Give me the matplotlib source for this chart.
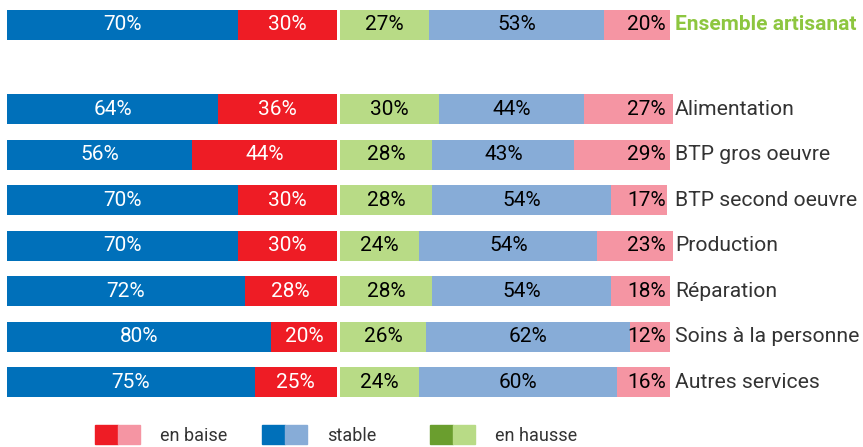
import numpy as np
import matplotlib.pyplot as plt
from matplotlib.patches import Patch
from matplotlib.legend_handler import HandlerTuple

categories = ["Ensemble artisanat", "Alimentation", "BTP gros oeuvre", "BTP second oeuvre",
              "Production", "Réparation", "Soins à la personne", "Autres services"]
# left block: stable / en baisse
left_stable = [70, 64, 56, 70, 70, 72, 80, 75]
left_baisse = [30, 36, 44, 30, 30, 28, 20, 25]
# right block: en hausse / stable / en baisse
right_hausse = [27, 30, 28, 28, 24, 28, 26, 24]
right_stable = [53, 44, 43, 54, 54, 54, 62, 60]
right_baisse = [20, 27, 29, 17, 23, 18, 12, 16]

legend_labels = ["en baise", "stable", "en hausse"]

dark_blue = "#0070BA"
red = "#EE1C25"
light_green = "#B8DB86"
light_blue = "#87ACD7"
pink = "#F595A3"
dark_green = "#6A9E2E"

num_font = ['Roboto', 'DejaVu Sans']
cat_font = ['Roboto', 'DejaVu Sans']

fig = plt.figure(figsize=(8.63, 4.47), dpi=100)
ax = fig.add_axes([0, 0, 1, 1])

px = 3.3  # pixels per percent
ax.set_xlim(-7 / px, (863 - 7) / px)
ax.set_ylim(9.27, -0.549)
ax.axis('off')

y = np.array([0] + [1.85 + i for i in range(len(categories) - 1)])
h = 0.66
off = 100 + 3 / px  # start of right block

ax.barh(y, left_stable, height=h, color=dark_blue)
ax.barh(y, left_baisse, left=left_stable, height=h, color=red)
ax.barh(y, right_hausse, left=off, height=h, color=light_green)
rs_left = np.array(right_hausse) + off
ax.barh(y, right_stable, left=rs_left, height=h, color=light_blue)
rb_left = rs_left + np.array(right_stable)
ax.barh(y, right_baisse, left=rb_left, height=h, color=pink)

fs = 15
for i in range(len(categories)):
    ax.text(left_stable[i] / 2, y[i], f"{left_stable[i]}%", ha='center', va='center',
            color='white', fontsize=fs, family=num_font)
    ax.text(left_stable[i] + left_baisse[i] / 2, y[i], f"{left_baisse[i]}%", ha='center',
            va='center', color='white', fontsize=fs, family=num_font)
    ax.text(off + right_hausse[i] / 2, y[i], f"{right_hausse[i]}%", ha='center', va='center',
            color='black', fontsize=fs, family=num_font)
    ax.text(rs_left[i] + right_stable[i] / 2, y[i], f"{right_stable[i]}%", ha='center',
            va='center', color='black', fontsize=fs, family=num_font)
    ax.text(off + 100 - 1.2, y[i], f"{right_baisse[i]}%", ha='right', va='center',
            color='black', fontsize=fs, family=num_font)
    if i == 0:
        ax.text(off + 100 + 1.5, y[i], categories[i], ha='left', va='center',
                color='#8DC63F', fontsize=15, fontweight='bold', family=cat_font)
    else:
        ax.text(off + 100 + 1.5, y[i], categories[i], ha='left', va='center',
                color='#333333', fontsize=15.2, family=cat_font)

handles = [(Patch(color=red), Patch(color=pink)),
           (Patch(color=dark_blue), Patch(color=light_blue)),
           (Patch(color=dark_green), Patch(color=light_green))]
leg_x = [95, 262, 430]
for hd, lab, lx in zip(handles, legend_labels, leg_x):
    leg = fig.legend([hd], [lab], handler_map={tuple: HandlerTuple(ndivide=None, pad=0)},
                     loc='center left', bbox_to_anchor=(lx / 863, 1 - 435 / 447),
                     frameon=False, borderpad=0, borderaxespad=0,
                     handlelength=2.5, handleheight=1.2, handletextpad=1.1,
                     prop={'family': cat_font, 'size': 13})
    for t in leg.get_texts():
        t.set_color('#333333')

fig.savefig('out.png', dpi=100)
